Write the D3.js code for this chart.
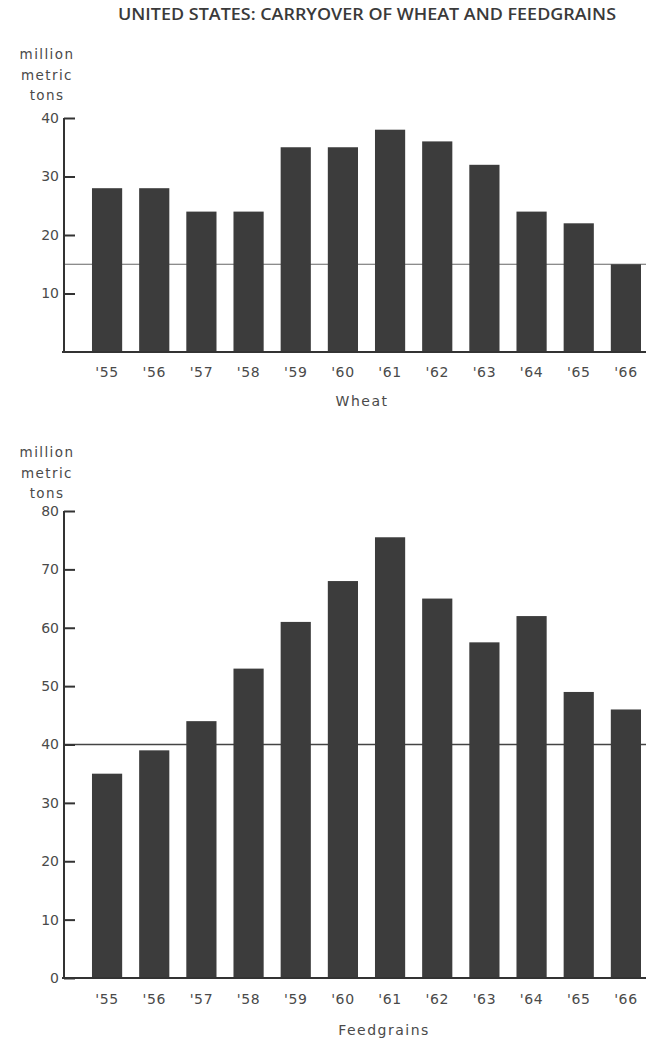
<!DOCTYPE html>
<html><head><meta charset="utf-8">
<script src="https://cdn.jsdelivr.net/npm/d3@7"></script>
<style>body{margin:0;background:#fff}</style>
</head><body>
<svg id="c" width="646" height="1040"></svg>
<script>
const title = "UNITED STATES: CARRYOVER OF WHEAT AND FEEDGRAINS";
const years = ["'55","'56","'57","'58","'59","'60","'61","'62","'63","'64","'65","'66"];
const wheat = [28, 28, 24, 24, 35, 35, 38, 36, 32, 24, 22, 15];
const feedgrains = [35, 39, 44, 53, 61, 68, 75.5, 65, 57.5, 62, 49, 46];
const wheatTicks = [10, 20, 30, 40];
const feedTicks = [0, 10, 20, 30, 40, 50, 60, 70, 80];
const wheatRef = 15;
const feedRef = 40;
const unitLines = ["million", "metric", "tons"];
const panelNames = ["Wheat", "Feedgrains"];

const svg = d3.select("#c");
const ink = "#333", txt = "#4a4a4a", barFill = "#3c3c3c";
const labelFont = "'DejaVu Sans', sans-serif";

svg.append("text").attr("x", 118).attr("y", 20)
  .attr("textLength", 498).attr("lengthAdjust", "spacingAndGlyphs")
  .style("font-family", "'Open Sans', sans-serif").style("font-weight", 600)
  .style("font-size", "16.5px").style("fill", "#3a3a3a").text(title);

const x = d3.scaleBand().domain(years).range([75, 641]).paddingInner(0.36).paddingOuter(0.18).align(1);
const axisX = 64;

function panel(cfg) {
  const y = d3.scaleLinear().domain([0, cfg.max]).range([cfg.base, cfg.top]);
  const g = svg.append("g");
  // units label
  unitLines.forEach((t, i) => {
    g.append("text").attr("x", 47).attr("y", cfg.unitY + i * 20.5)
      .attr("text-anchor", "middle")
      .style("font-family", labelFont).style("font-size", "13.5px")
      .style("letter-spacing", "1.4px").style("fill", txt).text(t);
  });
  // reference line
  g.append("line").attr("x1", axisX).attr("x2", 646)
    .attr("y1", y(cfg.ref)).attr("y2", y(cfg.ref))
    .attr("stroke", cfg.refColor).attr("stroke-width", cfg.refWidth);
  // bars
  g.selectAll("rect.bar").data(cfg.values).join("rect")
    .attr("class", "bar")
    .attr("x", (d, i) => x(years[i])).attr("width", x.bandwidth())
    .attr("y", d => y(d)).attr("height", d => y(0) - y(d))
    .attr("fill", barFill);
  // y axis
  const ya = g.append("g").attr("transform", `translate(${axisX},0)`)
    .call(d3.axisLeft(y).tickValues(cfg.ticks).tickSizeInner(-11).tickSizeOuter(0).tickPadding(5));
  ya.select(".domain").attr("stroke", ink).attr("stroke-width", 2)
    .attr("d", `M0,${y(cfg.max)}V${cfg.base}`);
  ya.selectAll(".tick line").attr("stroke", ink).attr("stroke-width", 2);
  ya.selectAll(".tick text").style("font-family", labelFont).style("font-size", "14px")
    .style("fill", txt);
  // x axis
  g.append("line").attr("x1", axisX - 2).attr("x2", 646)
    .attr("y1", cfg.base).attr("y2", cfg.base)
    .attr("stroke", ink).attr("stroke-width", 2.2);
  const xa = g.append("g").attr("transform", `translate(0,${cfg.base})`)
    .call(d3.axisBottom(x).tickSize(0).tickPadding(cfg.pad));
  xa.select(".domain").remove();
  xa.selectAll(".tick text").style("font-family", labelFont).style("font-size", "14px")
    .style("letter-spacing", "0.6px").style("fill", txt);
  // name
  g.append("text").attr("x", cfg.nameX).attr("y", cfg.nameY).attr("text-anchor", "middle")
    .style("font-family", labelFont).style("font-size", "14px")
    .style("letter-spacing", "1.5px").style("fill", txt).text(cfg.name);
}

panel({ top: 118, base: 352, max: 40, ticks: wheatTicks, values: wheat, ref: wheatRef,
  refColor: "#666", refWidth: 1.2, unitY: 59, pad: 15, name: panelNames[0], nameX: 362, nameY: 406 });
panel({ top: 511, base: 978, max: 80, ticks: feedTicks, values: feedgrains, ref: feedRef,
  refColor: "#444", refWidth: 1.6, unitY: 457, pad: 16, name: panelNames[1], nameX: 384, nameY: 1035 });
</script>
</body></html>
